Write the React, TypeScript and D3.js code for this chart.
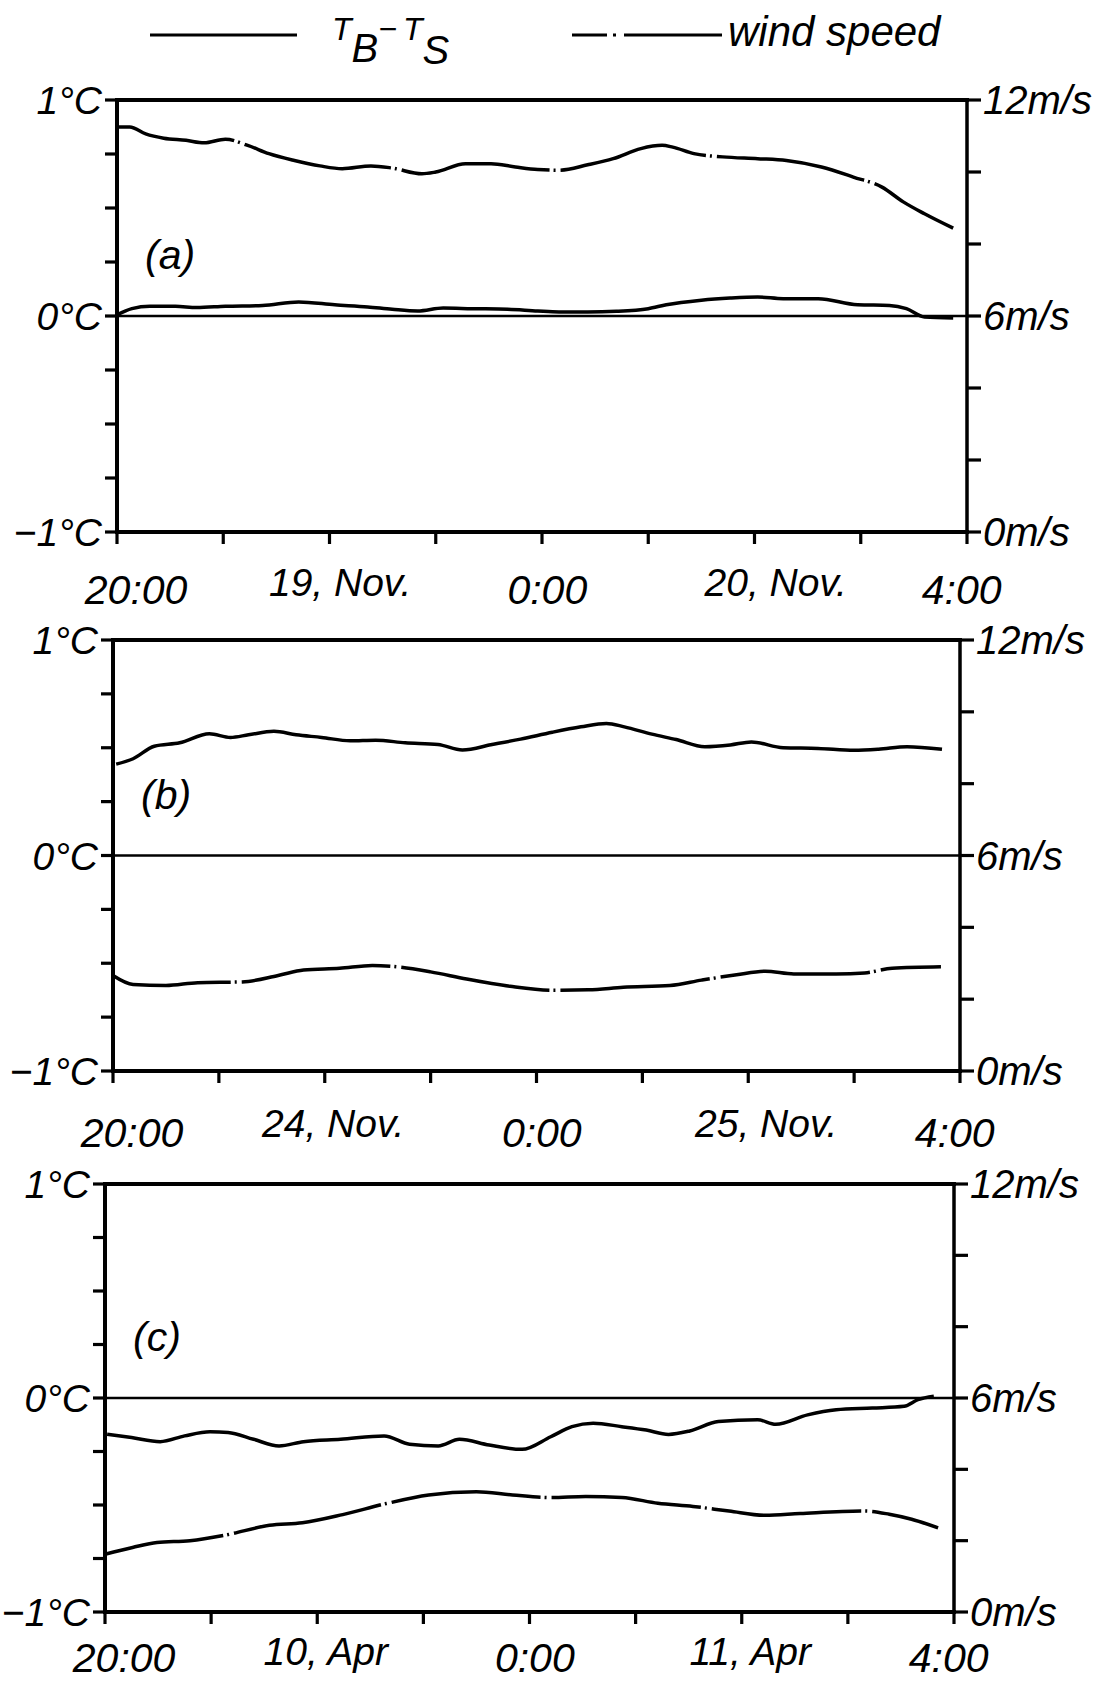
import React from "react";
import * as d3 from "d3";

type Pt = [number, number];

// Hours after 20:00 paired with T_B − T_S (°C)
const tempA: Pt[] = [
  [0.0, 0.005], [0.14, 0.034], [0.31, 0.045], [0.55, 0.045], [0.75, 0.039], [1.02, 0.045],
  [1.37, 0.049], [1.71, 0.065], [2.05, 0.052], [2.36, 0.042], [2.59, 0.031], [2.83, 0.023],
  [3.07, 0.037], [3.34, 0.034], [3.68, 0.031], [3.96, 0.023], [4.16, 0.019], [4.43, 0.019],
  [4.7, 0.022], [5.0, 0.034], [5.17, 0.052], [5.5, 0.073], [5.77, 0.083], [6.03, 0.088],
  [6.27, 0.08], [6.6, 0.08], [6.97, 0.052], [7.27, 0.049], [7.43, 0.034], [7.6, -0.005], [7.87, -0.009],
];
const tempB: Pt[] = [
  [0.03, 0.424], [0.19, 0.449], [0.39, 0.507], [0.63, 0.523], [0.91, 0.565], [1.11, 0.548],
  [1.28, 0.56], [1.52, 0.576], [1.73, 0.56], [1.97, 0.548], [2.24, 0.532], [2.48, 0.535],
  [2.76, 0.523], [3.07, 0.515], [3.3, 0.49], [3.58, 0.515], [3.85, 0.54], [4.15, 0.572],
  [4.42, 0.597], [4.66, 0.613], [4.83, 0.597], [5.09, 0.563], [5.32, 0.538], [5.59, 0.505],
  [5.83, 0.513], [6.03, 0.527], [6.33, 0.5], [6.66, 0.497], [7.0, 0.488], [7.23, 0.493],
  [7.5, 0.505], [7.83, 0.493],
];
const tempC: Pt[] = [
  [0.02, -0.169], [0.25, -0.185], [0.52, -0.204], [0.75, -0.177], [0.99, -0.158], [1.16, -0.161],
  [1.4, -0.193], [1.64, -0.224], [1.87, -0.204], [2.22, -0.193], [2.63, -0.177], [2.87, -0.216],
  [3.14, -0.224], [3.34, -0.193], [3.62, -0.22], [3.93, -0.24], [4.2, -0.181], [4.4, -0.134],
  [4.6, -0.118], [4.87, -0.134], [5.1, -0.15], [5.31, -0.17], [5.51, -0.154], [5.78, -0.11],
  [6.15, -0.102], [6.32, -0.123], [6.62, -0.079], [6.89, -0.055], [7.23, -0.047], [7.53, -0.039],
  [7.66, -0.008], [7.81, 0.008],
];

// Hours after 20:00 paired with wind speed (m/s)
const windA: Pt[] = [
  [0.0, 11.25], [0.12, 11.25], [0.27, 11.06], [0.44, 10.94], [0.65, 10.88], [0.82, 10.81],
  [1.02, 10.91], [1.23, 10.74], [1.43, 10.51], [1.67, 10.32], [1.91, 10.17], [2.12, 10.09],
  [2.39, 10.17], [2.59, 10.11], [2.87, 9.95], [3.0, 10.0], [3.28, 10.23], [3.52, 10.23],
  [3.75, 10.14], [3.96, 10.07], [4.16, 10.05], [4.43, 10.2], [4.67, 10.37], [4.93, 10.65],
  [5.13, 10.74], [5.23, 10.69], [5.43, 10.51], [5.7, 10.42], [6.03, 10.37], [6.3, 10.32],
  [6.63, 10.14], [6.93, 9.86], [7.2, 9.58], [7.4, 9.17], [7.6, 8.84], [7.87, 8.44],
];
const windB: Pt[] = [
  [0.0, 2.66], [0.19, 2.41], [0.5, 2.38], [0.8, 2.46], [1.22, 2.48], [1.56, 2.66], [1.8, 2.81],
  [2.14, 2.86], [2.45, 2.94], [2.65, 2.91], [3.0, 2.76], [3.34, 2.56], [3.75, 2.36], [4.15, 2.25],
  [4.49, 2.26], [4.82, 2.33], [5.26, 2.38], [5.56, 2.53], [5.89, 2.68], [6.16, 2.78], [6.43, 2.7],
  [6.83, 2.7], [7.1, 2.73], [7.36, 2.86], [7.82, 2.9],
];
const windC: Pt[] = [
  [0.0, 1.62], [0.26, 1.81], [0.49, 1.95], [0.8, 2.0], [1.14, 2.16], [1.55, 2.43], [1.86, 2.5],
  [2.24, 2.73], [2.65, 3.04], [3.05, 3.28], [3.5, 3.37], [3.84, 3.28], [4.2, 3.21], [4.53, 3.24],
  [4.87, 3.21], [5.21, 3.05], [5.54, 2.96], [5.88, 2.83], [6.22, 2.71], [6.55, 2.76], [7.16, 2.83],
  [7.39, 2.74], [7.6, 2.6], [7.85, 2.36],
];

// Axis labels
const timeLabels = [
  { h: 0.18, text: "20:00" },
  { h: 4.05, text: "0:00" },
  { h: 7.95, text: "4:00" },
];
const dateLabelsA = [{ h: 2.1, text: "19, Nov." }, { h: 6.2, text: "20, Nov." }];
const dateLabelsB = [{ h: 2.08, text: "24, Nov." }, { h: 6.17, text: "25, Nov." }];
const dateLabelsC = [{ h: 2.08, text: "10, Apr" }, { h: 6.08, text: "11, Apr" }];
const tempAxisLabels = [
  { v: 1, text: "1°C" },
  { v: 0, text: "0°C" },
  { v: -1, text: "−1°C" },
];
const windAxisLabels = [
  { v: 12, text: "12m/s" },
  { v: 6, text: "6m/s" },
  { v: 0, text: "0m/s" },
];
const panelTags = ["(a)", "(b)", "(c)"];

const hourDomain: [number, number] = [0, 8];
const tempDomain: [number, number] = [-1, 1];
const windDomain: [number, number] = [0, 12];
const hourTicks = d3.range(0, 9, 1);
const tempTicks = d3.range(-1, 1.0001, 0.25);
const windTicks = d3.range(0, 12.001, 2);

// Frame placement of the three stacked panels
const frames = [
  { x0: 117, x1: 967, y0: 100, y1: 532, timeDy: 72, dateDy: 64 },
  { x0: 113, x1: 960, y0: 640, y1: 1071, timeDy: 76, dateDy: 66 },
  { x0: 105, x1: 954, y0: 1184, y1: 1612, timeDy: 60, dateDy: 53 },
];

const FONT = "'Liberation Sans', Arial, sans-serif";
const WIND_DASH = "150 4 2 5";

type Frame = (typeof frames)[number];

const textStyle = { fontFamily: FONT, fontStyle: "italic" as const, fill: "#000" };

function Panel({
  frame,
  temp,
  wind,
  dates,
  tag,
}: {
  frame: Frame;
  temp: Pt[];
  wind: Pt[];
  dates: { h: number; text: string }[];
  tag: string;
}) {
  const x = d3.scaleLinear().domain(hourDomain).range([frame.x0, frame.x1]);
  const yT = d3.scaleLinear().domain(tempDomain).range([frame.y1, frame.y0]);
  const yW = d3.scaleLinear().domain(windDomain).range([frame.y1, frame.y0]);

  const tempLine = d3
    .line<Pt>()
    .x((d) => x(d[0]))
    .y((d) => yT(d[1]))
    .curve(d3.curveMonotoneX);
  const windLine = d3
    .line<Pt>()
    .x((d) => x(d[0]))
    .y((d) => yW(d[1]))
    .curve(d3.curveMonotoneX);

  return (
    <g>
      {/* frame */}
      <g stroke="#000" strokeWidth={4} strokeLinecap="square">
        <line x1={x(0)} x2={x(8)} y1={yT(1)} y2={yT(1)} />
        <line x1={x(0)} x2={x(8)} y1={yT(-1)} y2={yT(-1)} />
        <line x1={x(0)} x2={x(0)} y1={yT(1)} y2={yT(-1)} />
        <line x1={x(8)} x2={x(8)} y1={yT(1)} y2={yT(-1)} strokeWidth={3.5} />
      </g>
      {/* zero line */}
      <line x1={x(0)} x2={x(8)} y1={yT(0)} y2={yT(0)} stroke="#000" strokeWidth={2.5} />

      {/* ticks */}
      <g stroke="#000" strokeWidth={3.2}>
        {tempTicks.map((v) => (
          <line key={"t" + v} x1={x(0) - 12} x2={x(0)} y1={yT(v)} y2={yT(v)} />
        ))}
        {windTicks.map((v) => (
          <line key={"w" + v} x1={x(8)} x2={x(8) + 14} y1={yW(v)} y2={yW(v)} />
        ))}
        {hourTicks.map((h) => (
          <line key={"h" + h} x1={x(h)} x2={x(h)} y1={yT(-1)} y2={yT(-1) + 12} />
        ))}
      </g>

      {/* series */}
      <path d={tempLine(temp) ?? ""} fill="none" stroke="#000" strokeWidth={3.5} strokeLinejoin="round" />
      <path
        d={windLine(wind) ?? ""}
        fill="none"
        stroke="#000"
        strokeWidth={3.5}
        strokeDasharray={WIND_DASH}
        strokeDashoffset={30}
        strokeLinejoin="round"
      />

      {/* axis labels */}
      {tempAxisLabels.map((l) => (
        <text key={l.text} x={x(0) - 15} y={yT(l.v)} dy="0.36em" textAnchor="end" fontSize={39} {...textStyle}>
          {l.text}
        </text>
      ))}
      {windAxisLabels.map((l) => (
        <text key={l.text} x={x(8) + 16} y={yW(l.v)} dy="0.36em" textAnchor="start" fontSize={40} {...textStyle}>
          {l.text}
        </text>
      ))}
      {timeLabels.map((l) => (
        <text key={l.text} x={x(l.h)} y={yT(-1) + frame.timeDy} textAnchor="middle" fontSize={41} {...textStyle}>
          {l.text}
        </text>
      ))}
      {dates.map((l) => (
        <text key={l.text} x={x(l.h)} y={yT(-1) + frame.dateDy} textAnchor="middle" fontSize={39} {...textStyle}>
          {l.text}
        </text>
      ))}
      <text x={x(0) + 28} y={yT(0) - 47} fontSize={41} {...textStyle}>
        {tag}
      </text>
    </g>
  );
}

function Legend() {
  return (
    <g>
      <line x1={150} x2={297} y1={35} y2={35} stroke="#000" strokeWidth={3.2} />
      <text x={332} y={40} fontSize={32} {...textStyle}>
        T
        <tspan dy={22} fontSize={40}>B</tspan>
        <tspan dy={-22} fontSize={32}>−</tspan>
        <tspan dx={6}>T</tspan>
        <tspan dy={24} fontSize={40}>S</tspan>
      </text>

      <line x1={572} x2={722} y1={35} y2={35} stroke="#000" strokeWidth={3.2} strokeDasharray="35 6 3 8 100" />
      <text x={728} y={46} fontSize={42} {...textStyle}>wind speed</text>
    </g>
  );
}

export default function App() {
  const temps = [tempA, tempB, tempC];
  const winds = [windA, windB, windC];
  const dates = [dateLabelsA, dateLabelsB, dateLabelsC];
  return (
    <svg
      width={1110}
      height={1681}
      viewBox="0 0 1110 1681"
      style={{ position: "absolute", left: 0, top: 0, display: "block", background: "#fff" }}
    >
      <rect width={1110} height={1681} fill="#fff" />
      <Legend />
      {frames.map((f, i) => (
        <Panel key={i} frame={f} temp={temps[i]} wind={winds[i]} dates={dates[i]} tag={panelTags[i]} />
      ))}
    </svg>
  );
}
